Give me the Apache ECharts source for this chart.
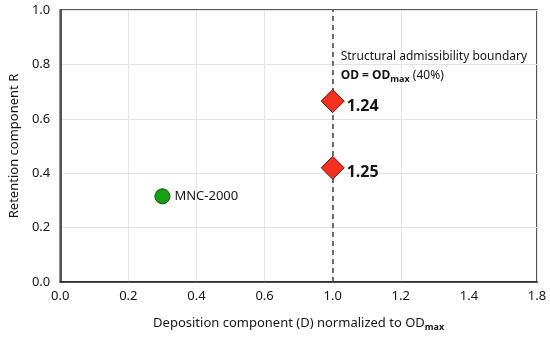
<!DOCTYPE html>
<html>
<head>
<meta charset="utf-8">
<script src="https://cdn.jsdelivr.net/npm/echarts@6/dist/echarts.min.js"></script>
<style>html,body{margin:0;padding:0;background:#fff}#c{width:550px;height:337px}</style>
</head>
<body>
<div id="c"></div>
<script>
// X tick labels as printed on the reference axis (evenly spaced ticks)
const xTickValues = [0.0, 0.2, 0.4, 0.6, 1.0, 1.2, 1.4, 1.8];
const yTickValues = [0.0, 0.2, 0.4, 0.6, 0.8, 1.0];

// Reference material
const refNames = ['MNC-2000'];
const refD = [0.30];
const refR = [0.315];

// Candidate points on the boundary
const candLabels = ['1.24', '1.25'];
const candD = [1.0, 1.0];
const candR = [0.665, 0.42];

// Structural admissibility boundary
const boundaryD = 1.0;

const FONT = 'Noto Sans';
const INK = '#151515';

// map a D value onto the evenly spaced tick index scale
function toAxis(v) {
  for (let i = 0; i < xTickValues.length - 1; i++) {
    const a = xTickValues[i], b = xTickValues[i + 1];
    if (v >= a && v <= b) return i + (v - a) / (b - a);
  }
  return xTickValues.length - 1;
}

const chart = echarts.init(document.getElementById('c'), null, {renderer: 'canvas'});

const gridColors = xTickValues.map((v, i) => (i === 6 ? 'rgba(0,0,0,0)' : '#e3e3e3'));

chart.setOption({
  animation: false,
  backgroundColor: '#fff',
  textStyle: {fontFamily: FONT},
  grid: {left: 57, right: 13, top: 10, bottom: 53, show: true, borderColor: '#222', borderWidth: 1.5, backgroundColor: 'transparent'},
  xAxis: {
    type: 'value', min: 0, max: xTickValues.length - 1, interval: 1,
    axisLine: {show: true, lineStyle: {color: '#222', width: 1.5}},
    axisTick: {show: false},
    splitLine: {show: true, lineStyle: {color: gridColors, width: 1}},
    axisLabel: {color: INK, fontSize: 13, fontFamily: FONT, margin: 8,
      formatter: v => xTickValues[Math.round(v)].toFixed(1)},
    name: '{n|Deposition component (D) normalized to OD}{s|max}',
    nameLocation: 'middle', nameGap: 33,
    nameTextStyle: {rich: {
      n: {fontSize: 13, color: INK, fontFamily: FONT},
      s: {fontSize: 9, fontWeight: 'bold', color: INK, fontFamily: FONT, padding: [8, 0, 0, 0]}
    }}
  },
  yAxis: {
    type: 'value', min: 0, max: 1, interval: 0.2,
    axisLine: {show: true, lineStyle: {color: '#222', width: 1.5}},
    axisTick: {show: false},
    splitLine: {show: true, lineStyle: {color: '#e3e3e3', width: 1}},
    axisLabel: {color: INK, fontSize: 13, fontFamily: FONT, margin: 10, formatter: v => v.toFixed(1)},
    name: 'Retention component R', nameLocation: 'middle', nameGap: 38,
    nameTextStyle: {fontSize: 13, color: INK, fontFamily: FONT}
  },
  series: [
    {
      type: 'scatter', name: 'boundary', data: [],
      markLine: {
        silent: true, symbol: 'none',
        lineStyle: {color: '#444', width: 1.5, type: [5, 4]},
        label: {show: false},
        data: [{xAxis: toAxis(boundaryD)}]
      }
    },
    {
      type: 'scatter', name: 'reference',
      symbol: 'circle', symbolSize: 15,
      itemStyle: {color: '#14a114', borderColor: '#1d3d1d', borderWidth: 1, opacity: 1},
      label: {show: true, position: 'right', distance: 4, color: INK, fontSize: 13, fontFamily: FONT,
        formatter: p => refNames[p.dataIndex]},
      data: refD.map((d, i) => [toAxis(d), refR[i]])
    },
    {
      type: 'scatter', name: 'candidates', z: 5,
      symbol: 'diamond', symbolSize: 23,
      itemStyle: {color: '#f5301f', borderColor: '#5a1a14', borderWidth: 1, opacity: 1},
      label: {show: true, position: 'right', distance: 2, offset: [0, 5], color: INK, fontSize: 16, fontWeight: 'bold', fontFamily: FONT,
        formatter: p => candLabels[p.dataIndex]},
      data: candD.map((d, i) => [toAxis(d), candR[i]])
    }
  ]
});

const bx = chart.convertToPixel({xAxisIndex: 0}, toAxis(boundaryD));
const ty = chart.convertToPixel({yAxisIndex: 0}, 1.0);
chart.setOption({
  graphic: [
    {type: 'text', left: bx + 8, top: ty + 41, style: {text: 'Structural admissibility boundary', fill: INK, font: '12px "Noto Sans"'}},
    {type: 'text', left: bx + 8, top: ty + 60, style: {
      text: '{b|OD = OD}{s|max}{n| (40%)}',
      rich: {
        b: {fontSize: 12, fontWeight: 'bold', fill: INK, fontFamily: FONT},
        s: {fontSize: 9, fontWeight: 'bold', fill: INK, fontFamily: FONT, padding: [7, 0, 0, 0]},
        n: {fontSize: 12, fill: INK, fontFamily: FONT}
      }
    }}
  ]
});
</script>
</body>
</html>
